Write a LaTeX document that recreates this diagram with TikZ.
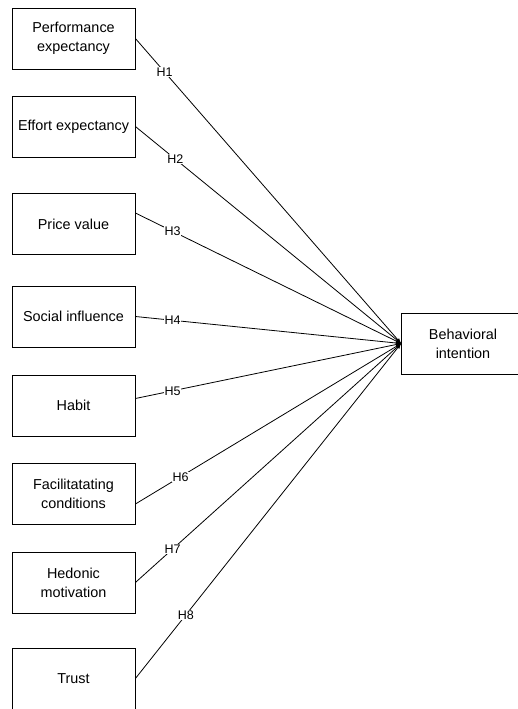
\documentclass[tikz,border=0pt]{standalone}
\usepackage{fontspec}
\setmainfont{Liberation Sans}

\begin{document}
\begin{tikzpicture}[x=1pt, y=-1pt,
        box/.style={draw, line width=0.8pt, minimum width=123pt, minimum height=61pt, inner sep=2pt, align=center, font=\fontsize{14.4}{19}\selectfont},
        hyp/.style={fill=white, inner sep=0.5pt, font=\fontsize{12.5}{14}\selectfont}]
        \useasboundingbox (0,0) rectangle (517,709);

        \def\bx{73.5}

        \foreach \name/\y/\txt in {pe/38.5/{Performance\\expectancy}, ee/126.5/{Effort expectancy}, pv/224/{Price value}, si/316.5/{Social influence}, hb/405.5/{Habit}, fc/494/{Facilitatating\\conditions}, hm/582.5/{Hedonic\\motivation}, tr/678.5/{Trust}} {
            \node[box] (\name) at (\bx, \y) {\txt};
        }

        \node[box] (bi) at (463, 343.5) {Behavioral\\intention};

        \foreach \name/\dy/\h/\p in {pe/0/H1/0.11, ee/0/H2/0.15, pv/11/H3/0.14, si/0/H4/0.14, hb/7/H5/0.14, fc/-10/H6/0.17, hm/0/H7/0.14, tr/0/H8/0.19} {
            \draw[line width=0.8pt, ->, >=latex] ([yshift=\dy]\name.east) -- (bi.west) node[pos=\p, hyp] {\h};
        }
    \end{tikzpicture}
\end{document}
